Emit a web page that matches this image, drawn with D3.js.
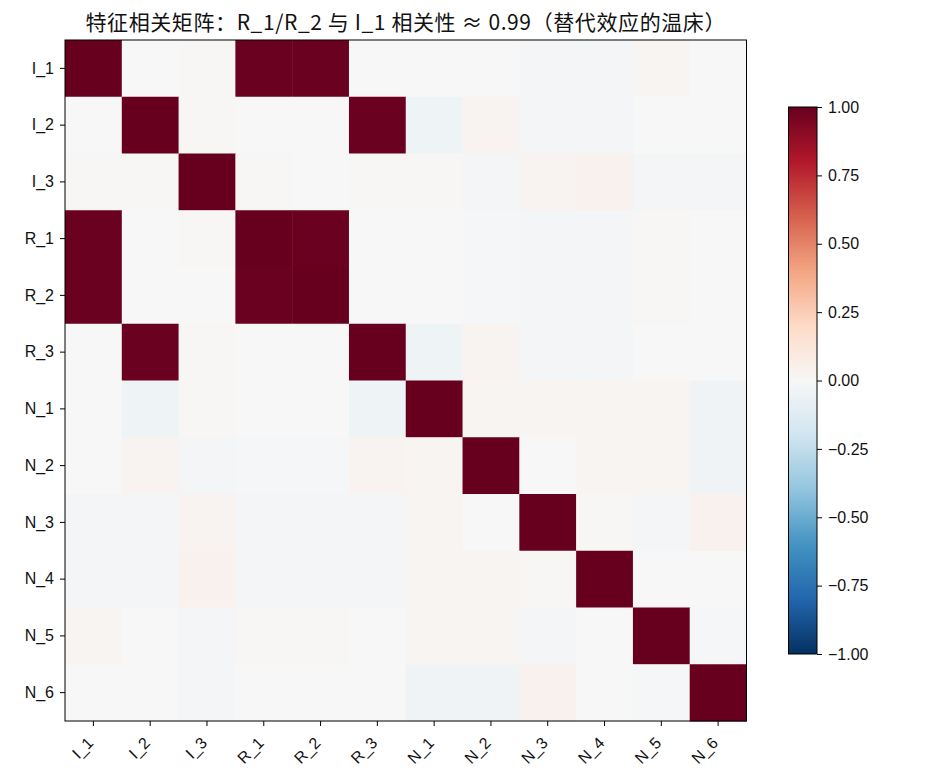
<!DOCTYPE html>
<html>
<head>
<meta charset="utf-8">
<script src="https://cdn.jsdelivr.net/npm/d3@7"></script>
<style>
  html, body { margin: 0; padding: 0; background: #fff; overflow: hidden; }
  svg { display: block; font-family: "Noto Sans CJK SC", "Noto Sans", sans-serif; }
</style>
</head>
<body>
<svg id="heatSvg" width="936" height="780"></svg>
<script>
      // feature names (rows and columns share the same order)
      var features = ['I_1','I_2','I_3','R_1','R_2','R_3','N_1','N_2','N_3','N_4','N_5','N_6'];

      // correlation rows
      var rowI1 = [ 1.00,  0.00,  0.01,  0.99,  0.99,  0.00,  0.00,  0.00, -0.02, -0.02,  0.02,  0.00];
      var rowI2 = [ 0.00,  1.00,  0.01,  0.00,  0.00,  0.99, -0.05,  0.03, -0.02, -0.02,  0.00,  0.00];
      var rowI3 = [ 0.01,  0.01,  1.00,  0.01,  0.00,  0.01,  0.01, -0.02,  0.03,  0.04, -0.02, -0.02];
      var rowR1 = [ 0.99,  0.00,  0.01,  1.00,  0.99,  0.00,  0.00, -0.01, -0.02, -0.02,  0.01,  0.00];
      var rowR2 = [ 0.99,  0.00,  0.00,  0.99,  1.00,  0.00,  0.00, -0.01, -0.02, -0.02,  0.01,  0.00];
      var rowR3 = [ 0.00,  0.99,  0.01,  0.00,  0.00,  1.00, -0.05,  0.03, -0.02, -0.02,  0.00,  0.00];
      var rowN1 = [ 0.00, -0.05,  0.01,  0.00,  0.00, -0.05,  1.00,  0.02,  0.02,  0.02,  0.02, -0.04];
      var rowN2 = [ 0.00,  0.03, -0.02, -0.01, -0.01,  0.03,  0.02,  1.00,  0.00,  0.02,  0.02, -0.04];
      var rowN3 = [-0.02, -0.02,  0.03, -0.02, -0.02, -0.02,  0.02,  0.00,  1.00,  0.01, -0.02,  0.04];
      var rowN4 = [-0.02, -0.02,  0.04, -0.02, -0.02, -0.02,  0.02,  0.02,  0.01,  1.00,  0.00,  0.00];
      var rowN5 = [ 0.02,  0.00, -0.02,  0.01,  0.01,  0.00,  0.02,  0.02, -0.02,  0.00,  1.00, -0.01];
      var rowN6 = [ 0.00,  0.00, -0.02,  0.00,  0.00,  0.00, -0.04, -0.04,  0.04,  0.00, -0.01,  1.00];

      var corrRows = [rowI1, rowI2, rowI3, rowR1, rowR2, rowR3, rowN1, rowN2, rowN3, rowN4, rowN5, rowN6];

      var colorbarTicks = [1.00, 0.75, 0.50, 0.25, 0.00, -0.25, -0.50, -0.75, -1.00];

      // RdBu_r stops, low to high
      var rdbuStops = ['#053061','#2166ac','#4393c3','#92c5de','#d1e5f0','#f7f7f7',
                       '#fddbc7','#f4a582','#d6604d','#b2182b','#67001f'];

      var titleText = '特征相关矩阵：R_1/R_2 与 I_1 相关性 ≈ 0.99（替代效应的温床）';

      var svg = d3.select('#heatSvg');
      var margin = { top: 40, left: 65 };
      var innerWidth = 681.5;
      var innerHeight = 681;

      // flatten into cells
      var cells = [];
      corrRows.forEach(function(row, i) {
        row.forEach(function(v, j) {
          cells.push({ row: features[i], col: features[j], value: v });
        });
      });

      var xScale = d3.scaleBand().domain(features).range([0, innerWidth]);
      var yScale = d3.scaleBand().domain(features).range([0, innerHeight]);
      var color = d3.scaleLinear()
                    .domain(d3.range(11).map(i => -1 + i * 0.2))
                    .range(rdbuStops)
                    .interpolate(d3.interpolateRgb)
                    .clamp(true);

      var g = svg.append('g')
                 .attr('transform', 'translate(' + margin.left + ',' + margin.top + ')');

      g.selectAll('rect.cell')
       .data(cells)
       .enter()
       .append('rect')
       .attr('class', 'cell')
       .attr('x', d => xScale(d.col))
       .attr('y', d => yScale(d.row))
       .attr('width', xScale.bandwidth() + 0.5)
       .attr('height', yScale.bandwidth() + 0.5)
       .attr('fill', d => color(d.value));

      // frame
      g.append('rect')
       .attr('width', innerWidth)
       .attr('height', innerHeight)
       .attr('fill', 'none')
       .attr('stroke', '#000')
       .attr('stroke-width', 1);

      // axes
      var yAxis = d3.axisLeft(yScale).tickSize(5).tickPadding(6);
      var yG = g.append('g').call(yAxis);
      yG.select('.domain').remove();
      yG.selectAll('text').style('font-size', '16px').attr('fill', '#111');

      var xAxis = d3.axisBottom(xScale).tickSize(5);
      var xG = g.append('g')
                .attr('transform', 'translate(0,' + innerHeight + ')')
                .call(xAxis);
      xG.select('.domain').remove();
      xG.selectAll('text')
        .style('font-size', '16px')
        .attr('fill', '#111')
        .attr('text-anchor', 'end')
        .attr('y', 0)
        .attr('dy', '0.35em')
        .attr('transform', 'translate(-3,19) rotate(-45)');

      // title
      svg.append('text')
         .attr('x', margin.left + innerWidth / 2)
         .attr('y', 30)
         .attr('text-anchor', 'middle')
         .style('font-size', '21px')
         .style('letter-spacing', '0.6px')
         .attr('fill', '#111')
         .text(titleText);

      // colorbar
      var cbX = 788.5, cbY = 107, cbW = 28.5, cbH = 547;
      var defs = svg.append('defs');
      var grad = defs.append('linearGradient')
                     .attr('id', 'cbGrad')
                     .attr('x1', 0).attr('y1', 1).attr('x2', 0).attr('y2', 0);
      rdbuStops.forEach(function(c, i) {
        grad.append('stop')
            .attr('offset', i / 10)
            .attr('stop-color', c);
      });
      svg.append('rect')
         .attr('x', cbX).attr('y', cbY)
         .attr('width', cbW).attr('height', cbH)
         .attr('fill', 'url(#cbGrad)')
         .attr('stroke', '#000')
         .attr('stroke-width', 1);

      var cbScale = d3.scaleLinear().domain([-1, 1]).range([cbY + cbH, cbY]);
      var cbAxis = d3.axisRight(cbScale)
                     .tickValues(colorbarTicks)
                     .tickSize(5)
                     .tickPadding(6)
                     .tickFormat(d => d3.format('.2f')(d).replace('-', '\u2212'));
      var cbG = svg.append('g')
                   .attr('transform', 'translate(' + (cbX + cbW) + ',0)')
                   .call(cbAxis);
      cbG.select('.domain').remove();
      cbG.selectAll('text').style('font-size', '16px').attr('fill', '#111');
</script>
</body>
</html>
